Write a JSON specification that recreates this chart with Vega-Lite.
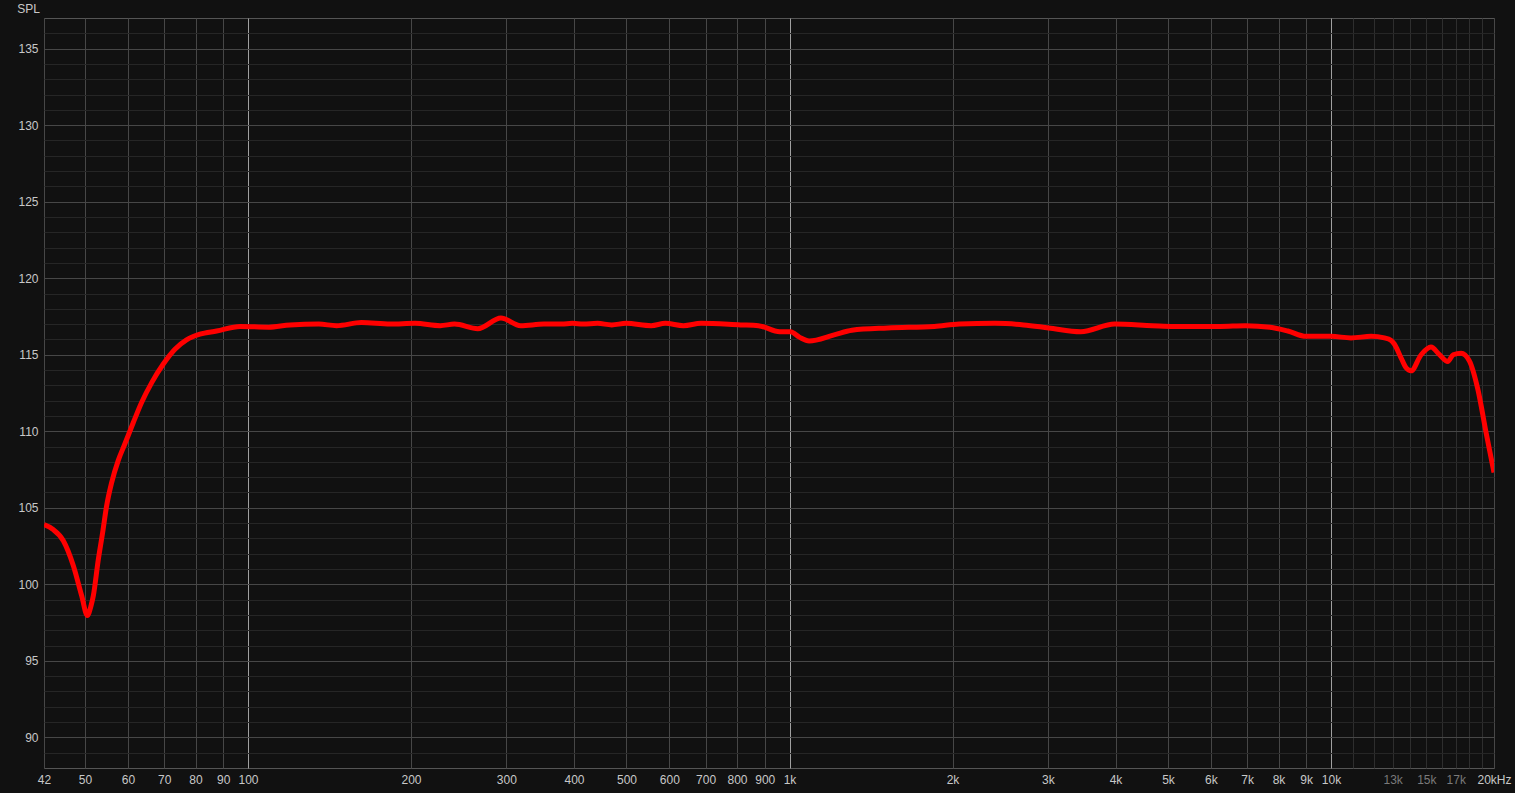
{
  "$schema": "https://vega.github.io/schema/vega-lite/v6.json",
  "background": "#111111",
  "autosize": "none",
  "padding": {"left": 44, "top": 18, "right": 21, "bottom": 25},
  "width": 1450,
  "height": 750,
  "config": {
    "view": {"stroke": "#555555", "strokeWidth": 1, "fill": "#111111"},
    "axis": {
      "labelFont": "Liberation Sans",
      "labelFontSize": 12,
      "labelColor": "#c8c8c8",
      "titleFont": "Liberation Sans",
      "domain": false,
      "ticks": false,
      "gridWidth": 1
    }
  },
  "data": {
    "values": [
      {"f": 42, "spl": 103.9},
      {"f": 43.6, "spl": 103.6},
      {"f": 45.6, "spl": 102.85},
      {"f": 47.6, "spl": 101.2},
      {"f": 49.3, "spl": 99.25},
      {"f": 50.5, "spl": 97.97},
      {"f": 51.3, "spl": 98.6},
      {"f": 51.8, "spl": 99.25},
      {"f": 52.9, "spl": 101.6},
      {"f": 53.9, "spl": 103.4},
      {"f": 54.8, "spl": 105.1},
      {"f": 56.0, "spl": 106.65},
      {"f": 57.6, "spl": 108.1},
      {"f": 59.2, "spl": 109.15},
      {"f": 61.4, "spl": 110.57},
      {"f": 63.6, "spl": 111.88},
      {"f": 66.4, "spl": 113.18},
      {"f": 69.7, "spl": 114.38},
      {"f": 73.3, "spl": 115.36},
      {"f": 77.0, "spl": 115.97},
      {"f": 81.5, "spl": 116.34},
      {"f": 87.5, "spl": 116.55},
      {"f": 96.7, "spl": 116.85},
      {"f": 109.2, "spl": 116.8},
      {"f": 119.6, "spl": 116.95},
      {"f": 135.1, "spl": 117.0},
      {"f": 145.7, "spl": 116.9},
      {"f": 162.0, "spl": 117.1},
      {"f": 183.0, "spl": 117.0},
      {"f": 203.5, "spl": 117.05},
      {"f": 226.4, "spl": 116.9},
      {"f": 240.6, "spl": 117.0},
      {"f": 265.7, "spl": 116.7},
      {"f": 293.2, "spl": 117.4},
      {"f": 318.8, "spl": 116.9},
      {"f": 351.9, "spl": 117.0},
      {"f": 379.6, "spl": 117.0},
      {"f": 397.1, "spl": 117.05},
      {"f": 415.9, "spl": 117.0},
      {"f": 441.9, "spl": 117.05},
      {"f": 469.6, "spl": 116.95},
      {"f": 499.1, "spl": 117.05},
      {"f": 555.3, "spl": 116.9},
      {"f": 590.0, "spl": 117.05},
      {"f": 636.9, "spl": 116.9},
      {"f": 686.8, "spl": 117.05},
      {"f": 812.0, "spl": 116.95},
      {"f": 876.2, "spl": 116.9},
      {"f": 959.6, "spl": 116.5},
      {"f": 1004, "spl": 116.5},
      {"f": 1043, "spl": 116.15},
      {"f": 1087, "spl": 115.9},
      {"f": 1209, "spl": 116.3},
      {"f": 1304, "spl": 116.6},
      {"f": 1518, "spl": 116.75},
      {"f": 1851, "spl": 116.85},
      {"f": 2058, "spl": 117.0},
      {"f": 2396, "spl": 117.05},
      {"f": 2706, "spl": 116.95},
      {"f": 3010, "spl": 116.75},
      {"f": 3451, "spl": 116.5},
      {"f": 3986, "spl": 117.0},
      {"f": 4677, "spl": 116.9},
      {"f": 5124, "spl": 116.85},
      {"f": 6244, "spl": 116.85},
      {"f": 6944, "spl": 116.9},
      {"f": 7723, "spl": 116.8},
      {"f": 8325, "spl": 116.55},
      {"f": 8993, "spl": 116.2},
      {"f": 10000, "spl": 116.2},
      {"f": 10890, "spl": 116.1},
      {"f": 11860, "spl": 116.2},
      {"f": 12550, "spl": 116.1},
      {"f": 12900, "spl": 115.95},
      {"f": 13090, "spl": 115.7},
      {"f": 13470, "spl": 114.8},
      {"f": 13760, "spl": 114.15},
      {"f": 14060, "spl": 113.95},
      {"f": 14670, "spl": 115.0},
      {"f": 15300, "spl": 115.5},
      {"f": 15860, "spl": 115.0},
      {"f": 16430, "spl": 114.55},
      {"f": 16810, "spl": 115.0},
      {"f": 17390, "spl": 115.1},
      {"f": 18010, "spl": 114.6},
      {"f": 18670, "spl": 112.75},
      {"f": 19340, "spl": 109.9},
      {"f": 20000, "spl": 107.3}
    ]
  },
  "mark": {"type": "line", "color": "#ff0000", "strokeWidth": 5, "interpolate": "monotone", "clip": true},
  "encoding": {
    "x": {
      "field": "f",
      "type": "quantitative",
      "scale": {"type": "log", "domain": [42, 20000], "nice": false},
      "axis": {
        "title": null,
        "values": [42, 50, 60, 70, 80, 90, 100, 200, 300, 400, 500, 600, 700, 800, 900, 1000, 2000, 3000, 4000, 5000, 6000, 7000, 8000, 9000, 10000, 11000, 12000, 13000, 14000, 15000, 16000, 17000, 18000, 19000, 20000],
        "labelExpr": "datum.value == 20000 ? '20kHz' : (indexof([11000, 12000, 14000, 16000, 18000, 19000], datum.value) >= 0 ? '' : (datum.value >= 1000 ? (datum.value / 1000) + 'k' : '' + datum.value))",
        "labelPadding": 6,
        "labelBaseline": "top",
        "labelOverlap": false,
        "labelFlush": false,
        "labelColor": {
          "condition": {"test": "datum.value == 13000 || datum.value == 15000 || datum.value == 17000", "value": "#7a7a7a"},
          "value": "#c8c8c8"
        },
        "gridColor": {
          "condition": [
            {"test": "datum.value == 100 || datum.value == 1000 || datum.value == 10000", "value": "#a0a0a0"},
            {"test": "datum.value > 10000 && datum.value < 20000", "value": "#2e2e2e"}
          ],
          "value": "#474747"
        }
      }
    },
    "y": {
      "field": "spl",
      "type": "quantitative",
      "scale": {"domain": [88, 137], "nice": false, "zero": false},
      "axis": {
        "title": "SPL",
        "titleAngle": 0,
        "titleX": -16,
        "titleY": -10,
        "titleAlign": "center",
        "titleBaseline": "middle",
        "titleColor": "#c8c8c8",
        "titleFontSize": 12,
        "titleFontWeight": "normal",
        "values": [89, 90, 91, 92, 93, 94, 95, 96, 97, 98, 99, 100, 101, 102, 103, 104, 105, 106, 107, 108, 109, 110, 111, 112, 113, 114, 115, 116, 117, 118, 119, 120, 121, 122, 123, 124, 125, 126, 127, 128, 129, 130, 131, 132, 133, 134, 135, 136],
        "labelExpr": "datum.value % 5 == 0 ? '' + datum.value : ''",
        "labelPadding": 6,
        "labelOverlap": false,
        "gridColor": {
          "condition": {"test": "datum.value % 5 == 0", "value": "#474747"},
          "value": "#262626"
        }
      }
    }
  }
}
